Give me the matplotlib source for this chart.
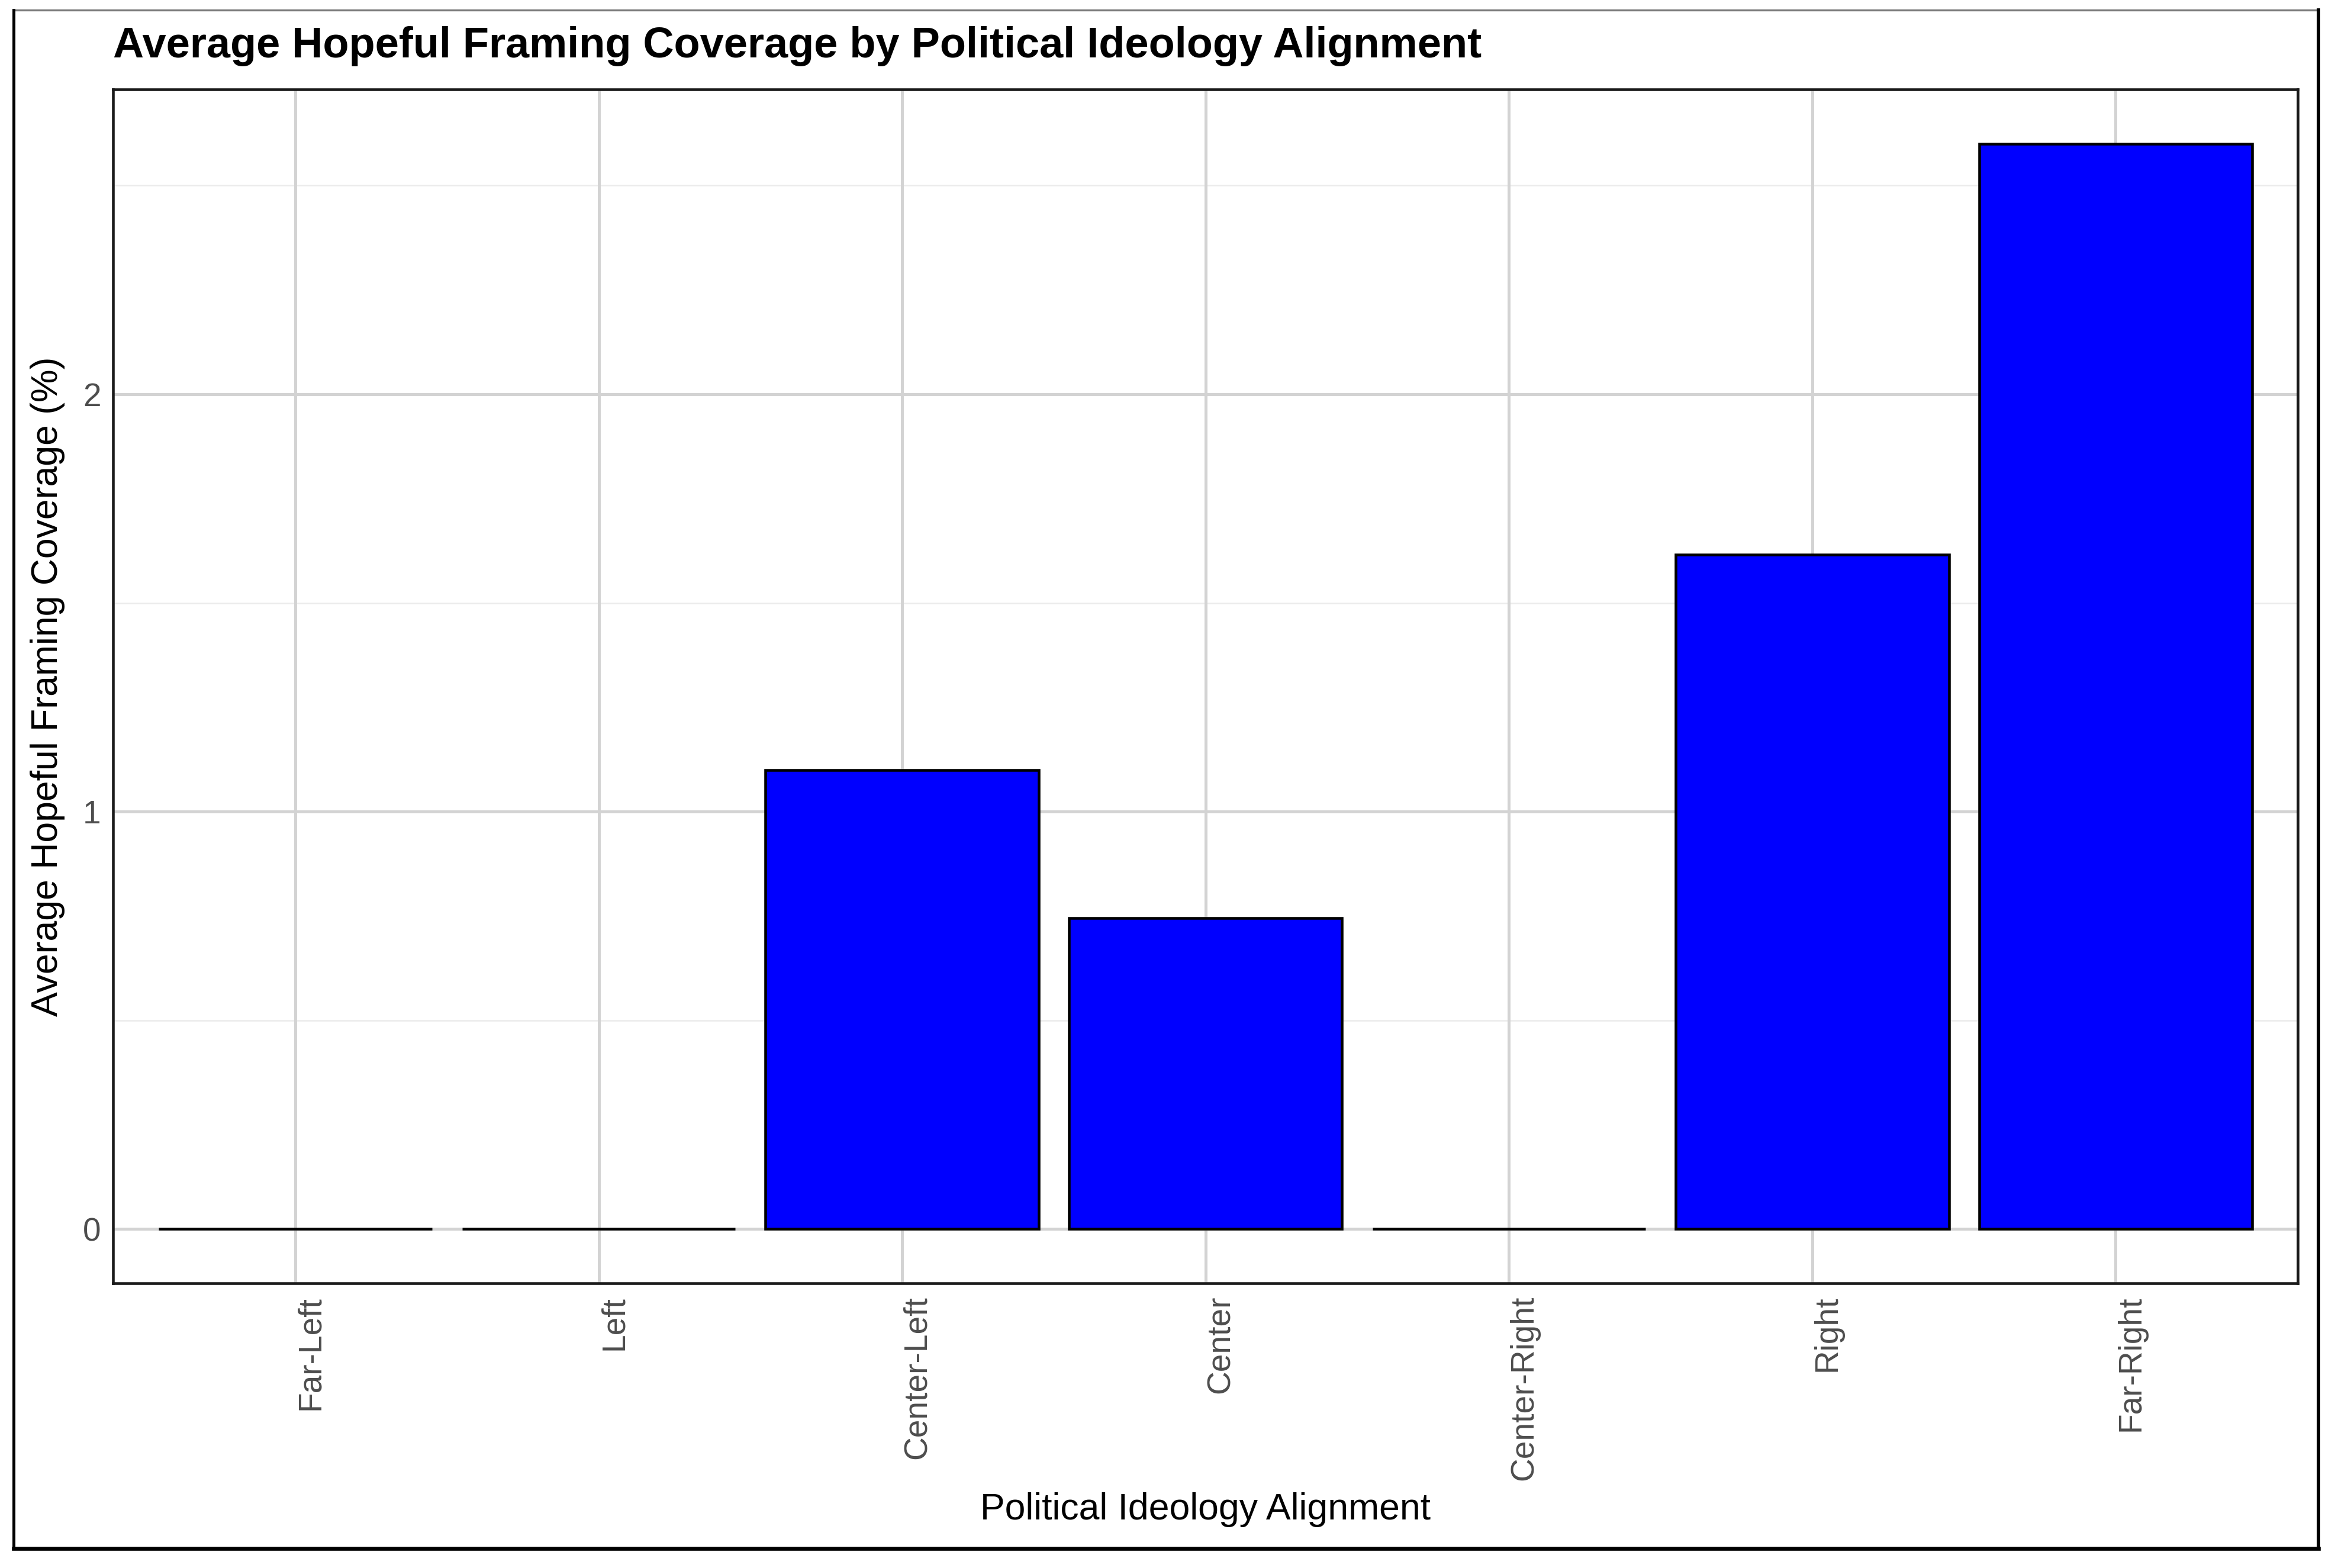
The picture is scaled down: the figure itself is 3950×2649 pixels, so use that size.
import matplotlib
matplotlib.use("Agg")
import matplotlib.pyplot as plt
from matplotlib.lines import Line2D
import numpy as np

categories = ["Far-Left", "Left", "Center-Left", "Center", "Center-Right", "Right", "Far-Right"]
values = [0.0, 0.0, 1.10, 0.745, 0.0, 1.615, 2.60]
y_ticks = [0, 1, 2]
y_minor = [0.5, 1.5, 2.5]

title = "Average Hopeful Framing Coverage by Political Ideology Alignment"
xlabel = "Political Ideology Alignment"
ylabel = "Average Hopeful Framing Coverage (%)"

plt.rcParams['font.family'] = ['Liberation Sans', 'DejaVu Sans']

W, H = 3950, 2649
dpi = 300
fig = plt.figure(figsize=(W / dpi, H / dpi), dpi=dpi)
fig.patch.set_facecolor("white")

L, R, T, B = 76 / 1568, 1541 / 1568, 60 / 1052, 861 / 1052
ax = fig.add_axes([L, 1 - B, R - L, B - T])

x = np.arange(len(categories)) + 1
ax.set_xlim(0.4, len(categories) + 0.6)
vmax = max(values)
ax.set_ylim(-0.05 * vmax, vmax * 1.05)

# grid
for yv in y_minor:
    ax.axhline(yv, color="#ebebeb", lw=0.6, zorder=0)
for yv in y_ticks:
    ax.axhline(yv, color="#d3d3d3", lw=1.2, zorder=0)
for xv in x:
    ax.axvline(xv, color="#d3d3d3", lw=1.2, zorder=0)

ax.bar(x, values, width=0.9, color="#0000ff", edgecolor="black", linewidth=1.1, zorder=2)

ax.set_xticks(x)
ax.set_xticklabels(categories, rotation=90, ha="left", va="top", fontsize=13.2, color="#4d4d4d")
ax.set_yticks(y_ticks)
ax.set_yticklabels([str(v) for v in y_ticks], fontsize=13.2, color="#4d4d4d")
ax.tick_params(axis="both", length=0, pad=5)

for s in ax.spines.values():
    s.set_color("#1a1a1a")
    s.set_linewidth(1.1)

fig.text(0.5 * (L + R), 1 - 1013 / 1052, xlabel, ha="center", va="center", fontsize=15, color="black")
fig.text(32 / 1568, 1 - 0.5 * (T + B), ylabel, ha="center", va="center", rotation=90, fontsize=15, color="black")
fig.text(L, 1 - 31 / 1052, title, ha="left", va="center", fontsize=17.3, fontweight="bold", color="black")

# outer border
bl, br, bt, bb = 9 / 1568, 1555 / 1568, 1 - 6.6 / 1052, 1 - 1039 / 1052
fig.add_artist(Line2D([bl, br], [bt, bt], transform=fig.transFigure, color="#7a7a7a", lw=0.8))
fig.add_artist(Line2D([bl, bl], [bb, bt], transform=fig.transFigure, color="black", lw=1.2))
fig.add_artist(Line2D([br, br], [bb, bt], transform=fig.transFigure, color="black", lw=1.4))
fig.add_artist(Line2D([bl, br], [bb, bb], transform=fig.transFigure, color="black", lw=1.6))

fig.savefig("out.png", dpi=dpi, facecolor="white")
